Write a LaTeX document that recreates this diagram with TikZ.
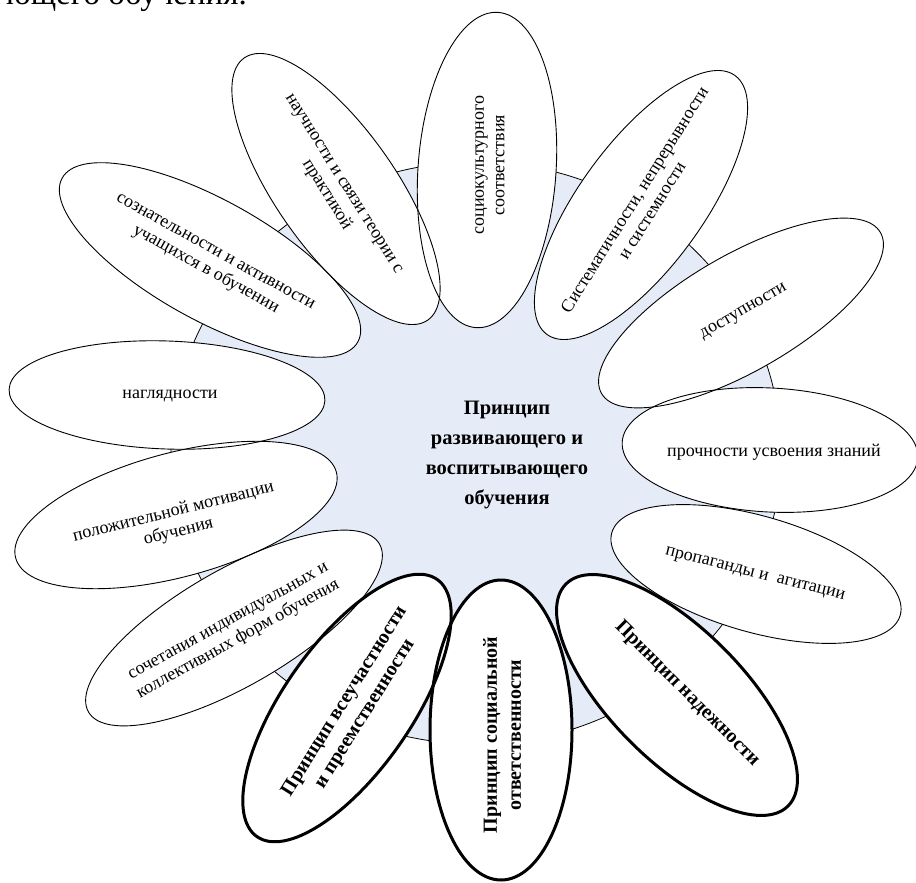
\documentclass[tikz,border=0pt]{standalone}
\usepackage{fontspec}
\setmainfont{Liberation Serif}
\definecolor{corefill}{RGB}{230,236,247}

\begin{document}
\begin{tikzpicture}[x=1pt,y=-1pt,
  corestyle/.style={fill=corefill, draw=black, line width=0.8pt},
  petalfill/.style={fill=white},
  petalline/.style={draw=black, line width=0.9pt},
  keyline/.style={draw=black, line width=3pt},
  petaltext/.style={font=\fontsize{18}{20.5}\selectfont, align=center, inner sep=0pt},
  keytext/.style={font=\fontsize{20}{24}\selectfont\bfseries, align=center, inner sep=0pt},
  coretext/.style={font=\fontsize{20.5}{30}\selectfont\bfseries, align=center, inner sep=0pt},
]
\useasboundingbox (0,0) rectangle (916,883);
\clip (0,0) rectangle (916,883);

% tail of the preceding line of the page
\node[anchor=base east, font=\fontsize{33}{36}\selectfont, inner sep=0pt] (tail) at (247,5) {ющего обучения.};

% central disc
\path[corestyle] (476,453) ellipse [x radius=305pt, y radius=291pt];

% petals: centre x / centre y / half length / half width / tilt
\def\thinpetals{487/170/158/69/86, 641/205/160/62/54, 741/313/161/58/30,
  770/450/148/62/-3, 756/574/150/58/-16, 234/628/168/58/30,
  176/515/166/62/15, 167/395/158/54/-2, 210/260/169/60/-29, 336/189/160/60/-55}
\def\keypetals{677/695/157/66/-45, 501/730/150/71/90, 347/708/157/64/55}

\foreach \cx/\cy/\a/\b/\t in \thinpetals {
  \path[petalfill, rotate around={\t:(\cx,\cy)}] (\cx,\cy) ellipse [x radius=\a pt, y radius=\b pt];
}
\foreach \cx/\cy/\a/\b/\t in \keypetals {
  \path[petalfill, rotate around={\t:(\cx,\cy)}] (\cx,\cy) ellipse [x radius=\a pt, y radius=\b pt];
}
\foreach \cx/\cy/\a/\b/\t in \thinpetals {
  \path[petalline, rotate around={\t:(\cx,\cy)}] (\cx,\cy) ellipse [x radius=\a pt, y radius=\b pt];
}
\foreach \cx/\cy/\a/\b/\t in \keypetals {
  \path[keyline, rotate around={\t:(\cx,\cy)}] (\cx,\cy) ellipse [x radius=\a pt, y radius=\b pt];
}

% labels
\node[coretext] (core) at (507,455) {Принцип\\развивающего и\\воспитывающего\\обучения};

\node[petaltext, rotate=90]  (socio) at (490,165) {социокультурного\\соответствия};
\node[petaltext, rotate=58]  (syst)  at (643,205) {Систематичности, непрерывности\\и системности};
\node[petaltext, rotate=30]  (dost)  at (744,312) {доступности};
\node[petaltext]             (proch) at (774,452) {прочности усвоения знаний};
\node[petaltext, rotate=-14] (prop)  at (755,575) {пропаганды и\ \ агитации};
\node[petaltext, rotate=29]  (soch)  at (234,632) {сочетания индивидуальных и\\коллективных форм обучения};
\node[petaltext, rotate=14]  (motiv) at (176,522) {положительной мотивации\\обучения};
\node[petaltext]             (nagl)  at (170,396) {наглядности};
\node[petaltext, rotate=-29] (sozn)  at (210,262) {сознательности и активности\\учащихся в обучении};
\node[petaltext, rotate=-58] (nauch) at (334,190) {научности и связи теории с\\практикой};

\node[keytext, rotate=-45] (nadezh) at (687,694) {Принцип надежности};
\node[keytext, rotate=90]  (social) at (502,735) {Принцип социальной\\ответственности};
\node[keytext, rotate=58]  (vseuch) at (355,708) {Принцип всеучастности\\и преемственности};
\end{tikzpicture}
\end{document}
